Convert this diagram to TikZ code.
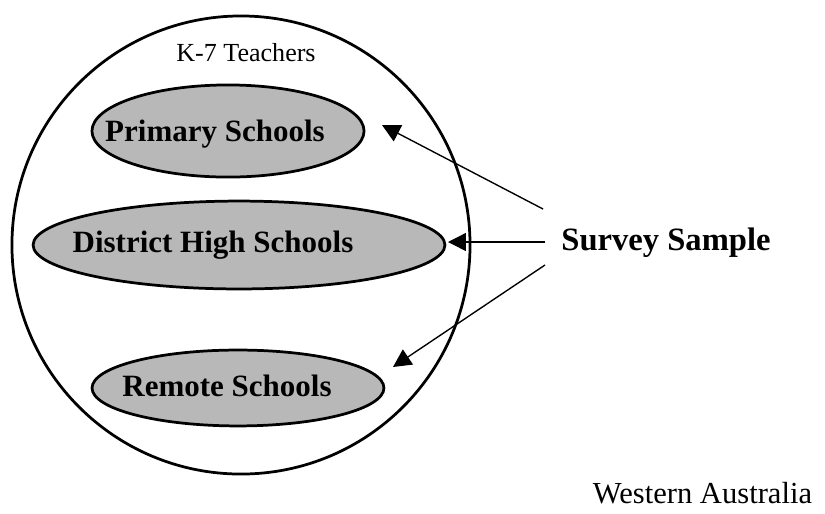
\documentclass[tikz,border=0pt]{standalone}
\usepackage{fontspec}
\setmainfont{Liberation Serif}
\usepackage{xcolor}
\usetikzlibrary{arrows.meta, positioning, shapes.geometric}

\begin{document}
\begin{tikzpicture}[every node/.style={font=\fontsize{24.7}{28}\selectfont, inner sep=0pt}]
  \tikzset{school/.style={ellipse, draw, line width=2.6pt, fill=black!28}}
  \tikzset{schoolname/.style={anchor=base, font=\fontsize{29.4}{32}\selectfont\bfseries}}
  \tikzset{pointer/.style={line width=1.3pt, -{Triangle[length=0.6cm, width=0.6cm]}}}
  \useasboundingbox (0,0) rectangle (27.5,-17.133);

  % the big population circle
  \node[circle, draw, line width=2.6pt, minimum size=15.27cm] (teachers) at (8.033,-8.167) {};
  \node[anchor=base] (k7) at (8.2,-2.05) {K-7 Teachers};

  % the three school groups
  \node[school, minimum width=9.07cm, minimum height=3.07cm] (primary) at (7.6,-4.367) {};
  \node[schoolname] (primarytext) at (7.167,-4.733) {Primary Schools};
  \node[school, minimum width=13.73cm, minimum height=2.93cm] (district) at (7.967,-8.167) {};
  \node[schoolname] (districttext) at (7.1,-8.433) {District High Schools};
  \node[school, minimum width=9.73cm, minimum height=2.53cm] (remote) at (7.933,-12.933) {};
  \node[schoolname] (remotetext) at (7.567,-13.233) {Remote Schools};

  % sample and its pointers
  \node[anchor=base, font=\fontsize{30.9}{34}\selectfont\bfseries] (sample) at (22.2,-8.35) {Survey Sample};
  \node[anchor=base, font=\fontsize{29}{32}\selectfont] (wa) at (23.417,-16.767) {Western Australia};

  \coordinate (fromtop) at (18.1,-6.967);
  \coordinate (frommid) at (18.167,-8.067);
  \coordinate (frombot) at (18.167,-8.833);
  \coordinate (primtip) at (12.733,-4.167);
  \coordinate (disttip) at (14.933,-8.067);
  \coordinate (remtip) at (13.1,-12.233);
  \draw[pointer] (fromtop) -- (primtip);
  \draw[pointer] (frommid) -- (disttip);
  \draw[pointer] (frombot) -- (remtip);
\end{tikzpicture}
\end{document}
